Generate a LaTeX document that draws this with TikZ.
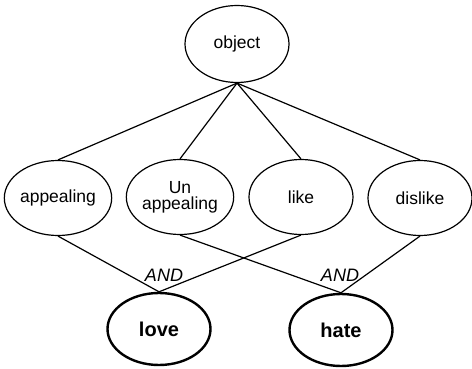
\documentclass[tikz,border=0pt]{standalone}
\usepackage{fontspec}
\setmainfont{Liberation Sans}
\usetikzlibrary{shapes.geometric}
\begin{document}
\begin{tikzpicture}[x=1pt,y=-1pt,
  ell/.style={draw,ellipse,line width=1.2pt,inner sep=0pt,minimum width=104pt,minimum height=75pt,font=\fontsize{17.5}{19}\selectfont,align=center},
  goal/.style={ell,line width=2.4pt,minimum width=103pt,minimum height=72pt,font=\bfseries\fontsize{20}{22}\selectfont},
  conn/.style={line width=1.2pt},
  lbl/.style={font=\itshape\fontsize{18}{20}\selectfont,inner sep=0pt}]
\useasboundingbox (0,0) rectangle (472,369);
\node[ell,minimum height=77pt] (obj) at (237,44) {object};
\node[ell] (app) at (58,198) {appealing};
\node[ell,minimum width=102pt] (unapp) at (180,197) {Un\\[-3pt]appealing};
\node[ell] (like) at (301,197) {like};
\node[ell] (dis) at (420,198) {dislike};
\node[goal] (love) at (159,329) {love};
\node[goal] (hate) at (341,330) {hate};
\draw[conn] (obj.south) -- (app.north);
\draw[conn] (obj.south) -- (unapp.north);
\draw[conn] (obj.south) -- (like.north);
\draw[conn] (obj.south) -- (dis.north);
\draw[conn] (app.south) -- (love.north);
\draw[conn] (like.south) -- (love.north);
\draw[conn] (unapp.south) -- (hate.north);
\draw[conn] (dis.south) -- (hate.north);
\node[lbl] (and1) at (164,275) {AND};
\node[lbl] (and2) at (340,275) {AND};
\end{tikzpicture}
\end{document}
